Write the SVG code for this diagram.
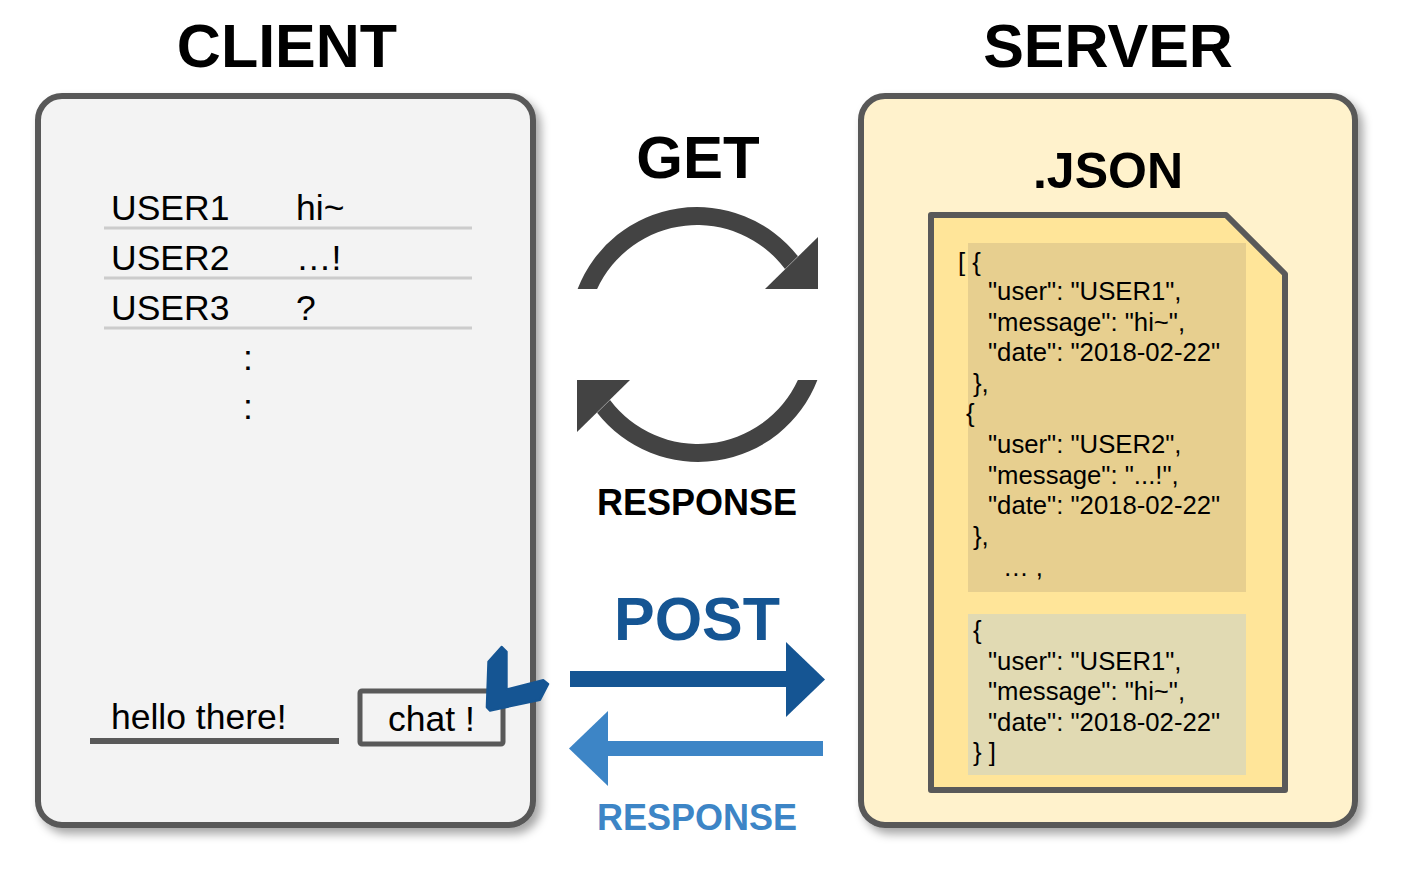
<svg xmlns="http://www.w3.org/2000/svg" width="1406" height="870" viewBox="0 0 1406 870">
<style>
  text { font-family: "Liberation Sans", Arial, sans-serif; fill: #000; }
  .title { font-weight: bold; font-size: 61px; text-anchor: middle; }
  .list { font-size: 35.5px; }
  .json { font-size: 25.7px; }
  .sep { stroke: #cccccc; stroke-width: 3; }
  .box { stroke: #595959; stroke-width: 6; }
</style>
<defs>
  <filter id="shadow" x="-10%" y="-10%" width="125%" height="125%">
    <feDropShadow dx="5" dy="6" stdDeviation="5" flood-color="#000" flood-opacity="0.35"/>
  </filter>
</defs>
<rect width="1406" height="870" fill="#ffffff"/>

<g id="client">
  <rect class="box" x="38" y="96" width="495" height="729" rx="24" fill="#f3f3f3" filter="url(#shadow)"/>
  <text class="title" x="287" y="67">CLIENT</text>
  <text class="list" x="111" y="220">USER1</text>
  <text class="list" x="296" y="220">hi~</text>
  <line class="sep" x1="104" y1="228" x2="472" y2="228"/>
  <text class="list" x="111" y="270">USER2</text>
  <text class="list" x="296" y="270">…!</text>
  <line class="sep" x1="104" y1="278" x2="472" y2="278"/>
  <text class="list" x="111" y="320">USER3</text>
  <text class="list" x="296" y="320">?</text>
  <line class="sep" x1="104" y1="328" x2="472" y2="328"/>
  <text class="list" x="243" y="370">:</text>
  <text class="list" x="243" y="419">:</text>
</g>

<g id="input">
  <text class="list" x="111" y="729">hello there!</text>
  <line x1="90" y1="741" x2="339" y2="741" stroke="#595959" stroke-width="6"/>
</g>

<g id="chat-button">
  <rect x="360" y="691" width="143" height="53" rx="2" fill="#f3f3f3" stroke="#595959" stroke-width="5"/>
  <text class="list" x="388" y="731">chat !</text>
  <polygon points="488.3,661.7 501.7,646.7 506.7,651.7 506.7,689.3 543.3,680 548.3,684 540,700 490,710.7 486.7,707.3" fill="#155593" stroke="#155593" stroke-width="2" stroke-linejoin="round"/>
</g>

<g id="server">
  <rect class="box" x="861" y="96" width="494" height="729" rx="24" fill="#fff2cc" filter="url(#shadow)"/>
  <text class="title" x="1108" y="67">SERVER</text>
  <text class="title" x="1108" y="188" style="font-size:50px">.JSON</text>
</g>

<g id="json-file">
  <path d="M931,215 L1226,215 L1285,274 L1285,790 L931,790 Z" fill="#ffe599" stroke="#595959" stroke-width="6" stroke-linejoin="round"/>
  <rect x="968" y="243" width="278" height="349" fill="#e7cf8f"/>
  <rect x="968" y="614" width="278" height="161" fill="#e1dab3"/>
  <text class="json" x="958" y="271">[ {</text>
  <text class="json" x="988" y="300">"user": "USER1",</text>
  <text class="json" x="988" y="331">"message": "hi~",</text>
  <text class="json" x="988" y="361">"date": "2018-02-22"</text>
  <text class="json" x="973" y="392">},</text>
  <text class="json" x="966" y="422">{</text>
  <text class="json" x="988" y="453">"user": "USER2",</text>
  <text class="json" x="988" y="484">"message": "...!",</text>
  <text class="json" x="988" y="514">"date": "2018-02-22"</text>
  <text class="json" x="973" y="545">},</text>
  <text class="json" x="1003" y="576">… ,</text>
  <text class="json" x="973" y="639">{</text>
  <text class="json" x="988" y="670">"user": "USER1",</text>
  <text class="json" x="988" y="700">"message": "hi~",</text>
  <text class="json" x="988" y="731">"date": "2018-02-22"</text>
  <text class="json" x="973" y="761">} ]</text>
</g>

<g id="connectors">
  <g id="get-cycle" fill="#434343">
    <path d="M577.6,289 A128,128 0 0 1 797.9,256.2 L785,269 A110,110 0 0 0 597.1,289 Z"/>
    <polygon points="765,289 818,289 818,237"/>
    <g transform="rotate(180 697.5 334.5)">
      <path d="M577.6,289 A128,128 0 0 1 797.9,256.2 L785,269 A110,110 0 0 0 597.1,289 Z"/>
      <polygon points="765,289 818,289 818,237"/>
    </g>
  </g>
  <text class="title" x="698" y="178" style="font-size:60px">GET</text>
  <text class="title" x="697" y="515" style="font-size:36px">RESPONSE</text>

  <g id="post-arrow" fill="#155593">
    <rect x="570" y="671" width="217" height="16"/>
    <polygon points="786,642 825,679.5 786,717"/>
  </g>
  <g id="response-arrow" fill="#3d85c6">
    <rect x="607" y="741" width="216" height="15"/>
    <polygon points="608,711 569,748.5 608,786"/>
  </g>
  <text class="title" x="697" y="640" style="font-size:61px; fill:#155593">POST</text>
  <text class="title" x="697" y="830" style="font-size:36px; fill:#3d85c6">RESPONSE</text>
</g>
</svg>
